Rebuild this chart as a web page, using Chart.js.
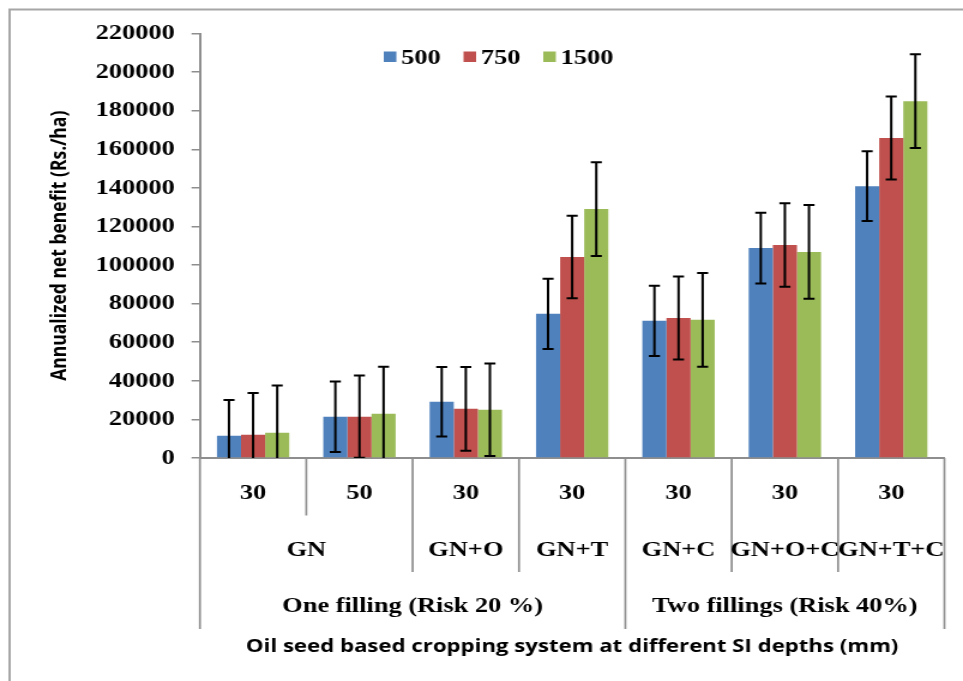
<!DOCTYPE html>
<html>
<head>
<meta charset="utf-8">
<script src="https://cdn.jsdelivr.net/npm/chart.js@4.4.0/dist/chart.umd.min.js"></script>
<style>
  html, body { margin: 0; padding: 0; background: #fff; overflow: hidden; }
  #chart { display: block; }
</style>
</head>
<body>
<!-- the source picture is stretched sideways, so the canvas is too -->
<canvas id="chart" width="803" height="681" style="width:963px;height:681px"></canvas>
<script>
// --- data ---
// axis levels (bottom to top)
const depths = ["30", "50", "30", "30", "30", "30", "30"];
const crops = ["GN", "GN+O", "GN+T", "GN+C", "GN+O+C", "GN+T+C"];
const cropSpans = [2, 1, 1, 1, 1, 1];
const fillings = ["One filling (Risk 20 %)", "Two fillings (Risk 40%)"];
const fillingSpans = [4, 3];

// series (legend names)
const seriesNames = ["500", "750", "1500"];
const seriesColors = ["#4F81BD", "#C0504D", "#9BBB59"];

// annualized net benefit (Rs./ha)
const values500 = [11500, 21400, 29100, 74700, 71100, 108800, 140900];
const values750 = [12100, 21400, 25500, 104200, 72600, 110400, 165800];
const values1500 = [13100, 22900, 25000, 129000, 71600, 106800, 184900];

// error bar half-lengths
const errors500 = [18500, 18300, 18000, 18200, 18200, 18300, 18100];
const errors750 = [21600, 21300, 21700, 21400, 21500, 21600, 21500];
const errors1500 = [24500, 24400, 24000, 24300, 24300, 24300, 24300];

// y axis
const yMin = 0;
const yMax = 220000;
const yStep = 20000;

const allValues = [values500, values750, values1500];
const allErrors = [errors500, errors750, errors1500];

const axisGray = "#8e8e8e";
const serifBold = { family: "'Liberation Serif', 'Times New Roman', serif", weight: "bold", size: 22 };

// outer frame of the figure
const frame = {
    id: "frame",
    beforeDraw(chart) {
        const ctx = chart.ctx;
        ctx.save();
        ctx.strokeStyle = "#a6a6a6";
        ctx.lineWidth = 2;
        ctx.strokeRect(8, 9.5, 900, 700);
        ctx.restore();
    }
};

// error bars from the y scale
const errorBars = {
    id: "errorBars",
    afterDatasetsDraw(chart) {
        const { ctx, chartArea, scales: { y } } = chart;
        ctx.save();
        ctx.beginPath();
        ctx.rect(chartArea.left, chartArea.top, chartArea.right - chartArea.left, chartArea.bottom - chartArea.top);
        ctx.clip();
        ctx.strokeStyle = "#000";
        ctx.lineWidth = 2;
        chart.data.datasets.forEach((ds, di) => {
            const meta = chart.getDatasetMeta(di);
            meta.data.forEach((bar, i) => {
                const v = ds.data[i];
                const e = allErrors[di][i];
                const top = y.getPixelForValue(v + e);
                const bot = y.getPixelForValue(v - e);
                const cx = bar.x;
                const cap = 4.6;
                ctx.beginPath();
                ctx.moveTo(cx, top); ctx.lineTo(cx, bot);
                ctx.moveTo(cx - cap, top); ctx.lineTo(cx + cap, top);
                ctx.moveTo(cx - cap, bot); ctx.lineTo(cx + cap, bot);
                ctx.stroke();
            });
        });
        ctx.restore();
    }
};

// legend at the top
const topLegend = {
    id: "topLegend",
    afterDraw(chart) {
        const ctx = chart.ctx;
        ctx.save();
        ctx.font = "bold 22px 'Liberation Serif', serif";
        ctx.textBaseline = "alphabetic";
        ctx.textAlign = "left";
        let x = 320;
        seriesNames.forEach((name, i) => {
            ctx.fillStyle = seriesColors[i];
            ctx.fillRect(x, 51.5, 10.5, 10.5);
            ctx.fillStyle = "#000";
            ctx.fillText(name, x + 14.5, 64);
            x += 14.5 + ctx.measureText(name).width + 19;
        });
        ctx.restore();
    }
};

// three-level category axis
const multiAxis = {
    id: "multiAxis",
    afterDraw(chart) {
        const { ctx, scales: { x } } = chart;
        const n = depths.length;
        const cw = (x.right - x.left) / n;
        const edge = i => x.left + i * cw;
        const base = x.top;

        // which edges reach which row
        const cropEdges = [0];
        cropSpans.forEach(s => cropEdges.push(cropEdges[cropEdges.length - 1] + s));
        const fillEdges = [0];
        fillingSpans.forEach(s => fillEdges.push(fillEdges[fillEdges.length - 1] + s));

        ctx.save();
        ctx.strokeStyle = axisGray;
        ctx.lineWidth = 1.7;
        for (let i = 0; i <= n; i++) {
            let len = 57.5;
            if (fillEdges.includes(i)) len = 171;
            else if (cropEdges.includes(i)) len = 114;
            ctx.beginPath();
            ctx.moveTo(edge(i), base);
            ctx.lineTo(edge(i), base + len);
            ctx.stroke();
        }

        ctx.fillStyle = "#000";
        ctx.font = "bold 22px 'Liberation Serif', serif";
        ctx.textAlign = "center";
        ctx.textBaseline = "alphabetic";

        depths.forEach((d, i) => ctx.fillText(d, x.getPixelForValue(i), base + 40.5));

        crops.forEach((c, i) => {
            const mid = (edge(cropEdges[i]) + edge(cropEdges[i + 1])) / 2;
            ctx.fillText(c, mid, base + 97.5);
        });

        fillings.forEach((f, i) => {
            const mid = (edge(fillEdges[i]) + edge(fillEdges[i + 1])) / 2;
            ctx.fillText(f, mid, base + 153.5);
        });
        ctx.restore();
    }
};

new Chart(document.getElementById("chart"), {
    type: "bar",
    data: {
        labels: depths,
        datasets: seriesNames.map((name, i) => ({
            label: name,
            data: allValues[i],
            backgroundColor: seriesColors[i],
            borderWidth: 0,
            categoryPercentage: 0.68,
            barPercentage: 1
        }))
    },
    options: {
        responsive: false,
        animation: false,
        layout: { padding: { left: 0, right: 15.5, top: 33.5, bottom: 0 } },
        plugins: {
            legend: { display: false },
            tooltip: { enabled: false }
        },
        scales: {
            x: {
                ticks: { display: false },
                grid: { display: false },
                border: { display: true, color: axisGray, width: 2 },
                title: {
                    display: true,
                    text: "Oil seed based cropping system at different SI depths (mm)",
                    color: "#000",
                    font: { family: "'Open Sans', sans-serif", weight: "bold", size: 18.5 },
                    padding: { top: 0, bottom: 23 }
                },
                afterFit(scale) { scale.height = 223; }
            },
            y: {
                min: yMin,
                max: yMax,
                ticks: {
                    stepSize: yStep,
                    color: "#000",
                    font: serifBold,
                    padding: 14,
                    callback: v => String(v)
                },
                grid: { drawOnChartArea: false, drawTicks: true, tickLength: 7, color: axisGray, lineWidth: 1.5 },
                border: { display: true, color: axisGray, width: 2 },
                title: {
                    display: true,
                    text: "Annualized net benefit (Rs./ha)",
                    color: "#000",
                    font: { family: "'Open Sans', sans-serif", weight: "bold", size: 17.5 },
                    padding: { top: 40, bottom: 0 }
                },
                afterFit(scale) { scale.width = 166.7; }
            }
        }
    },
    plugins: [frame, errorBars, topLegend, multiAxis]
});
</script>
</body>
</html>
